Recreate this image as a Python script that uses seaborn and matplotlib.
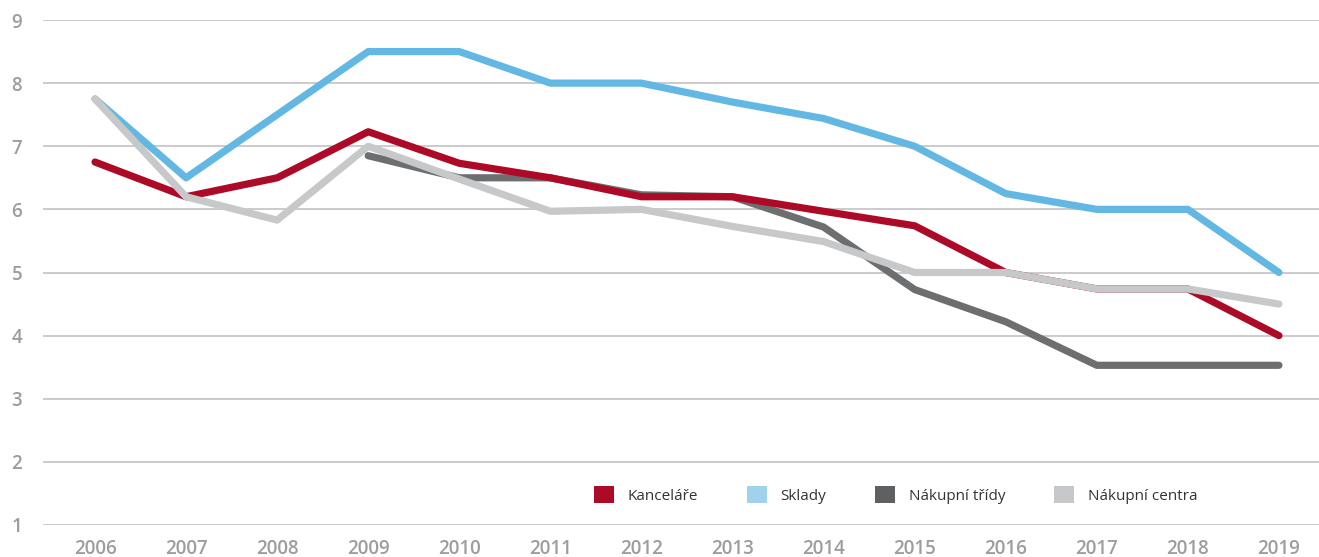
import matplotlib
matplotlib.use("Agg")
import matplotlib.pyplot as plt
from matplotlib.patches import Patch
import pandas as pd
import seaborn as sns

years = list(range(2006, 2020))

kancelare = [6.75, 6.2, 6.5, 7.23, 6.73, 6.5, 6.2, 6.2, 5.97, 5.74, 5.0, 4.74, 4.74, 4.0]
sklady = [7.75, 6.5, 7.5, 8.5, 8.5, 8.0, 8.0, 7.7, 7.44, 7.0, 6.25, 6.0, 6.0, 5.0]
nakupni_tridy_years = list(range(2009, 2020))
nakupni_tridy = [6.85, 6.5, 6.5, 6.23, 6.2, 5.72, 4.73, 4.22, 3.53, 3.53, 3.53]
nakupni_centra = [7.75, 6.2, 5.83, 7.0, 6.48, 5.97, 6.0, 5.73, 5.49, 5.0, 5.0, 4.74, 4.74, 4.5]

series_names = ["Kanceláře", "Sklady", "Nákupní třídy", "Nákupní centra"]
line_colors = {"Kanceláře": "#ad0a28", "Sklady": "#63b8e3",
               "Nákupní třídy": "#6d6e70", "Nákupní centra": "#c7c8c9"}
legend_colors = {"Kanceláře": "#ad0a28", "Sklady": "#a0d2ee",
                 "Nákupní třídy": "#5f6062", "Nákupní centra": "#c7c8c9"}
draw_order = ["Nákupní třídy", "Kanceláře", "Sklady", "Nákupní centra"]

rows = []
for name, xs, ys in [("Kanceláře", years, kancelare), ("Sklady", years, sklady),
                     ("Nákupní třídy", nakupni_tridy_years, nakupni_tridy),
                     ("Nákupní centra", years, nakupni_centra)]:
    for x, y in zip(xs, ys):
        rows.append({"rok": x, "hodnota": y, "segment": name})
df = pd.DataFrame(rows)

sns.set_theme(style="white")
plt.rcParams["font.family"] = ["Open Sans", "DejaVu Sans"]
plt.rcParams["lines.solid_capstyle"] = "round"

fig = plt.figure(figsize=(13.19, 5.57), dpi=100)
ax = fig.add_axes([43 / 1319, 1 - 525 / 557, 1 - 43 / 1319, (525 - 20) / 557])

sns.lineplot(data=df, x="rok", y="hodnota", hue="segment", hue_order=draw_order,
             palette=line_colors, linewidth=5.2, sort=False, legend=False, ax=ax)

ax.set_xlim(2006 - 0.571, 2019 + 0.44)
ax.set_ylim(1, 9)
ax.set_xticks(years)
ax.set_yticks(range(1, 10))
ax.yaxis.grid(True, color="#bdbdbd", linewidth=1.1)
ax.xaxis.grid(False)
ax.set_axisbelow(True)
for s in ax.spines.values():
    s.set_visible(False)
ax.set_xlabel("")
ax.set_ylabel("")
ax.tick_params(axis="both", length=0, labelsize=13.5, labelcolor="#9d9d9d")
ax.tick_params(axis="x", pad=10)
ax.tick_params(axis="y", pad=15)
for lbl in ax.get_xticklabels() + ax.get_yticklabels():
    lbl.set_fontweight("semibold")

handles = [Patch(facecolor=legend_colors[n], edgecolor="none", label=n) for n in series_names]
leg = fig.legend(handles=handles, loc="center", bbox_to_anchor=(0.679, 0.111),
                 ncol=4, frameon=False, fontsize=11, handlelength=1.3, handleheight=1.3,
                 handletextpad=0.9, columnspacing=3.2)
for t in leg.get_texts():
    t.set_color("#333333")

fig.savefig("out.png", dpi=100)
